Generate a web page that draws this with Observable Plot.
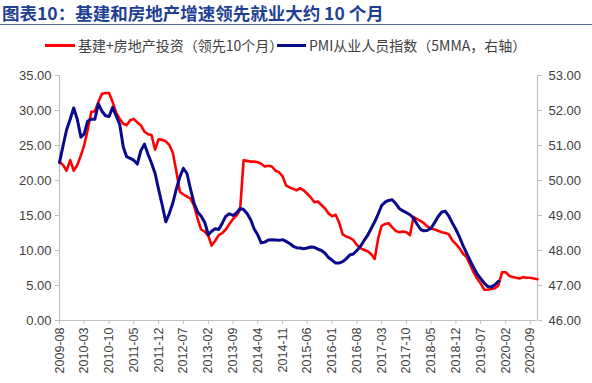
<!DOCTYPE html>
<html>
<head>
<meta charset="utf-8">
<script src="https://cdn.jsdelivr.net/npm/d3@7"></script>
<script src="https://cdn.jsdelivr.net/npm/@observablehq/plot@0.6"></script>
<style>
  html, body { margin: 0; padding: 0; background: #fff; }
  body { width: 592px; height: 383px; position: relative; overflow: hidden; font-family: "Noto Sans CJK SC", "Liberation Sans", sans-serif; }
  #title { position: absolute; left: 2px; top: 0px; font-size: 17.5px; font-weight: bold; color: #1f3f95; line-height: 25px; white-space: nowrap; }
  #rule { position: absolute; left: 0; top: 24px; width: 592px; height: 1px; background: #5b6f9a; }
  .leg { position: absolute; top: 36px; font-size: 14px; color: #404040; line-height: 18px; white-space: nowrap; }
  .sw { position: absolute; height: 3px; top: 44px; }
  #chart { position: absolute; left: 0; top: 56px; }
</style>
</head>
<body>
<div id="title">图表10：基建和房地产增速领先就业大约 10 个月</div>
<div id="rule"></div>
<div class="sw" style="left:45px;width:30px;background:#ff0000"></div>
<div class="leg" style="left:78px">基建+房地产投资（领先10个月）</div>
<div class="sw" style="left:277px;width:29px;background:#0a0a8c"></div>
<div class="leg" style="left:309px">PMI从业人员指数（5MMA，右轴）</div>
<div id="chart"></div>
<script>
// First month of both series
const startMonth = "2009-08";
const endMonth = "2020-11";

// 基建+房地产投资（领先10个月）, monthly from 2009-08, left axis
const redValues = [
  22.7,22.2,21.4,22.9,21.4,22.2,23.6,25.0,27.3,29.8,
  29.9,31.2,32.4,32.5,32.5,31.2,29.7,28.8,28.1,27.9,
  28.6,28.8,28.3,27.9,27.0,26.6,26.5,24.4,25.9,25.8,
  25.6,25.1,24.0,21.4,18.4,18.0,17.7,17.4,16.4,14.5,
  13.0,12.7,12.1,10.7,11.4,12.2,12.5,13.0,13.8,14.5,
  15.0,15.8,22.9,22.8,22.7,22.7,22.6,22.4,22.0,22.1,
  22.0,21.4,21.2,20.6,19.3,19.0,18.8,18.6,18.9,18.6,
  18.1,17.6,16.9,17.0,16.5,16.0,15.3,14.9,15.1,14.0,
  12.3,12.0,11.8,11.5,10.8,10.3,10.1,9.9,9.5,8.8,
  11.8,13.5,13.8,13.9,13.3,12.8,12.6,12.7,12.6,12.2,
  14.8,14.5,14.2,13.9,13.4,13.1,13.0,12.8,12.6,12.5,
  12.3,11.4,10.9,10.3,9.5,9.1,8.0,6.9,6.0,5.3,
  4.4,4.4,4.5,4.6,5.0,6.9,6.9,6.4,6.2,6.1,
  6.0,6.2,6.1,6.1,6.0,5.9
];

// PMI从业人员指数（5MMA，右轴）, monthly from 2009-08, right axis
const blueValues = [
  50.51,51.0,51.45,51.75,52.07,51.75,51.24,51.33,51.7,51.75,
  51.75,52.19,51.98,51.85,51.83,52.09,51.85,51.6,50.95,50.68,
  50.63,50.58,50.47,50.85,51.04,50.75,50.5,50.2,49.75,49.3,
  48.82,49.05,49.35,49.75,50.1,50.35,50.2,49.75,49.35,49.1,
  48.98,48.8,48.45,48.55,48.62,48.6,48.78,48.98,49.05,49.0,
  49.07,49.2,49.17,49.05,48.87,48.62,48.45,48.22,48.24,48.3,
  48.31,48.3,48.29,48.31,48.26,48.2,48.12,48.08,48.07,48.05,
  48.07,48.1,48.09,48.04,48.0,47.92,47.8,47.72,47.64,47.64,
  47.68,47.76,47.87,47.9,48.0,48.12,48.28,48.43,48.62,48.82,
  49.05,49.28,49.38,49.43,49.45,49.34,49.2,49.13,49.08,49.02,
  48.92,48.75,48.6,48.56,48.58,48.64,48.8,48.97,49.1,49.12,
  48.98,48.78,48.6,48.38,48.13,47.93,47.72,47.52,47.33,47.2,
  47.07,46.97,46.96,47.02,47.12
];

// Tick labels
const xTickLabels = ["2009-08","2010-03","2010-10","2011-05","2011-12","2012-07","2013-02","2013-09","2014-04","2014-11","2015-06","2016-01","2016-08","2017-03","2017-10","2018-05","2018-12","2019-07","2020-02","2020-09"];
const leftTicks = [0,5,10,15,20,25,30,35];
const rightTicks = [46,47,48,49,50,51,52,53];
const rightMin = 46, rightMax = 53, leftMax = 35;

const parseM = d3.utcParse("%Y-%m");
const fmtM = d3.utcFormat("%Y-%m");
const start = parseM(startMonth);
const end = parseM(endMonth);
const red = redValues.map((v, i) => ({date: d3.utcMonth.offset(start, i), v}));
const blue = blueValues.map((v, i) => ({date: d3.utcMonth.offset(start, i), v}));
const toLeft = v => (v - rightMin) * leftMax / (rightMax - rightMin);
const toRight = y => rightMin + y * (rightMax - rightMin) / leftMax;

const axisFont = "Liberation Sans, Arial, sans-serif";
const plot = Plot.plot({
  width: 592,
  height: 327,
  marginLeft: 59,
  marginRight: 55,
  marginTop: 19,
  marginBottom: 63,
  style: {fontFamily: axisFont, fontSize: "13px", background: "transparent"},
  x: {type: "utc", domain: [start, end]},
  y: {domain: [0, leftMax]},
  marks: [
    Plot.ruleY([0], {stroke: "#bfbfbf", strokeWidth: 1.2}),
    Plot.ruleX([start, end], {stroke: "#bfbfbf", strokeWidth: 1.2}),
    Plot.axisY(leftTicks, {anchor: "left", label: null, tickSize: 4, tickPadding: 4, stroke: "#bfbfbf", fill: "#404040", fontSize: 13, tickFormat: d => d.toFixed(2)}),
    Plot.axisY(rightTicks.map(toLeft), {anchor: "right", label: null, tickSize: 4, tickPadding: 7, stroke: "#bfbfbf", fill: "#404040", fontSize: 13, tickFormat: d => toRight(d).toFixed(2)}),
    Plot.axisX(xTickLabels.map(parseM), {anchor: "bottom", label: null, tickSize: 4, tickPadding: 3, tickRotate: -90, stroke: "#bfbfbf", fill: "#404040", fontSize: 12.5, tickFormat: fmtM}),
    Plot.line(red, {x: "date", y: "v", stroke: "#ff0000", strokeWidth: 2.6}),
    Plot.line(blue, {x: "date", y: d => toLeft(d.v), stroke: "#0a0a8c", strokeWidth: 3})
  ]
});
document.getElementById("chart").appendChild(plot);
</script>
</body>
</html>
